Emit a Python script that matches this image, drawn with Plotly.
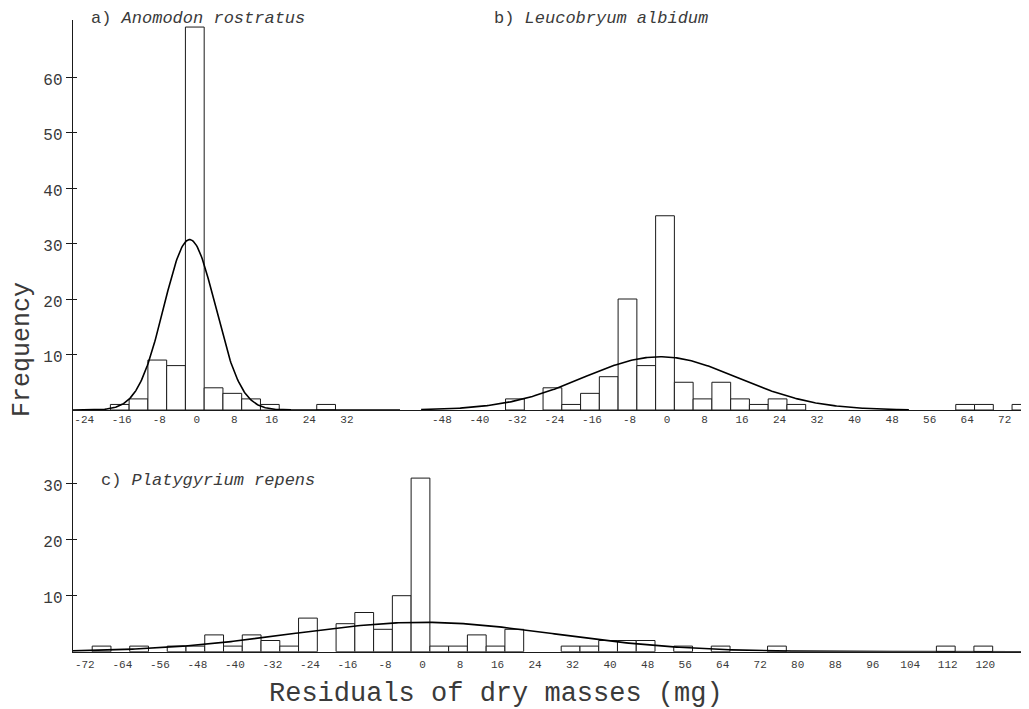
import numpy as np
import plotly.graph_objects as go

# ---------------- data ----------------
# a) Anomodon rostratus : histogram of residuals (bin centres, width 4 mg)
a_bins = [-16, -12, -8, -4, 0, 4, 8, 12, 16, 28]
a_counts = [1, 2, 9, 8, 69, 4, 3, 2, 1, 1]
a_fit = dict(peak=30.7, mean=-1.1, sd=5.5)

# b) Leucobryum albidum
b_bins = [-32, -24, -20, -16, -12, -8, -4, 0, 4, 8, 12, 16, 20, 24, 28, 64, 68, 76]
b_counts = [2, 4, 1, 3, 6, 20, 8, 35, 5, 2, 5, 2, 1, 2, 1, 1, 1, 1]
b_fit = dict(peak=9.6, mean=-1.0, sd=16.5)

# c) Platygyrium repens
c_bins = [-68, -60, -52, -48, -44, -40, -36, -32, -28, -24, -16, -12, -8, -4, 0,
          4, 8, 12, 16, 20, 32, 36, 40, 44, 48, 56, 64, 76, 112, 120]
c_counts = [1, 1, 1, 1, 3, 1, 3, 2, 1, 6, 5, 7, 4, 10, 31,
            1, 1, 3, 1, 4, 1, 1, 2, 2, 2, 1, 1, 1, 1, 1]
c_fit = dict(peak=5.25, mean=0.5, sd=28.0)

bin_width = 4

a_xticks = [-24, -16, -8, 0, 8, 16, 24, 32]
b_xticks = [-48, -40, -32, -24, -16, -8, 0, 8, 16, 24, 32, 40, 48, 56, 64, 72]
c_xticks = [-72, -64, -56, -48, -40, -32, -24, -16, -8, 0, 8, 16, 24, 32, 40,
            48, 56, 64, 72, 80, 88, 96, 104, 112, 120]
top_yticks = [10, 20, 30, 40, 50, 60]
bot_yticks = [10, 20, 30]

titles = ["a) <i>Anomodon rostratus</i>",
          "b) <i>Leucobryum albidum</i>",
          "c) <i>Platygyrium repens</i>"]
y_title = "Frequency"
x_title = "Residuals of dry masses (mg)"

# ---------------- layout geometry (reference pixels) ----------------
WIN_W, WIN_H = 1029, 709
OFF = 8                      # page body margin of the browser
W, H = WIN_W - OFF, WIN_H - OFF
FONT = "Liberation Mono"
INK = "#1a1a1a"
TXT = "#3a3a3a"

def fx(p):
    return (p - OFF) / W

def fy(p):
    return 1 - (p - OFF) / H

AX_X = 72.7          # shared vertical axis
TOP_BASE, TOP_TOP = 410.0, 20.0
BOT_BASE, BOT_TOP = 651.7, 410.0
PX_PER_UNIT_X = 4.69
PX_PER_UNIT_Y_TOP = 5.55
PX_PER_UNIT_Y_BOT = 5.6
SPLIT = 400.0        # where panel a hands over to panel b
A_ZERO, B_ZERO, C_ZERO = 194.8, 665.0, 420.5

a_range = [(AX_X - A_ZERO) / PX_PER_UNIT_X, (SPLIT - A_ZERO) / PX_PER_UNIT_X]
b_range = [(SPLIT - B_ZERO) / PX_PER_UNIT_X, (WIN_W - B_ZERO) / PX_PER_UNIT_X]
c_range = [(AX_X - C_ZERO) / PX_PER_UNIT_X, (WIN_W - C_ZERO) / PX_PER_UNIT_X]
top_yrange = [0, (TOP_BASE - TOP_TOP) / PX_PER_UNIT_Y_TOP]
bot_yrange = [0, (BOT_BASE - BOT_TOP) / PX_PER_UNIT_Y_BOT]


def normal_curve(fit, lo, hi):
    xs = np.linspace(lo, hi, 400)
    ys = fit["peak"] * np.exp(-0.5 * ((xs - fit["mean"]) / fit["sd"]) ** 2)
    return xs, ys


bar_style = dict(color="white", line=dict(color=INK, width=1))
curve_style = dict(color="black", width=1.6)

fig = go.Figure()
for bins, counts, fit, xa, ya, rng in [
    (a_bins, a_counts, a_fit, "x", "y", a_range),
    (b_bins, b_counts, b_fit, "x2", "y2", [-52, 52]),
    (c_bins, c_counts, c_fit, "x3", "y3", c_range),
]:
    fig.add_trace(go.Bar(x=bins, y=counts, width=bin_width, marker=bar_style,
                         xaxis=xa, yaxis=ya, showlegend=False, hoverinfo="skip"))
    cx, cy = normal_curve(fit, rng[0], rng[1])
    fig.add_trace(go.Scatter(x=cx, y=cy, mode="lines", line=curve_style,
                             xaxis=xa, yaxis=ya, showlegend=False, hoverinfo="skip"))

# helper traces for the inner half of the crossing tick marks
fig.add_trace(go.Scatter(x=[None], y=[None], xaxis="x", yaxis="y4",
                         showlegend=False, hoverinfo="skip"))
fig.add_trace(go.Scatter(x=[None], y=[None], xaxis="x3", yaxis="y5",
                         showlegend=False, hoverinfo="skip"))

xfont = dict(family=FONT, size=11, color=TXT)
yfont = dict(family=FONT, size=16, color=TXT)

def xaxis_cfg(dom, rng, ticks, anchor, standoff):
    return dict(domain=dom, range=rng, anchor=anchor, showline=True,
                linecolor=INK, linewidth=1, ticks="", showgrid=False,
                zeroline=False, tickmode="array", tickvals=ticks,
                ticktext=[str(t) for t in ticks], tickfont=xfont,
                ticklabelstandoff=standoff, ticklabelshift=2)

def yaxis_cfg(dom, rng, ticks, anchor):
    return dict(domain=dom, range=rng, anchor=anchor, showline=True,
                linecolor=INK, linewidth=1, ticks="outside", ticklen=6,
                tickcolor=INK, showgrid=False, zeroline=False,
                tickmode="array", tickvals=ticks,
                ticktext=[str(t) for t in ticks], tickfont=yfont,
                ticklabelshift=2)

top_dom = [fy(TOP_BASE), fy(TOP_TOP)]
bot_dom = [fy(BOT_BASE), fy(BOT_TOP)]

fig.update_layout(
    width=W, height=H,
    margin=dict(l=0, r=0, t=0, b=0),
    paper_bgcolor="white", plot_bgcolor="rgba(0,0,0,0)",
    barmode="overlay",
    xaxis=xaxis_cfg([fx(AX_X), fx(SPLIT)], a_range, a_xticks, "y", -1),
    xaxis2=xaxis_cfg([fx(SPLIT), 1.0], b_range, b_xticks, "y2", -1),
    xaxis3=xaxis_cfg([fx(AX_X), 1.0], c_range, c_xticks, "y3", 2),
    yaxis=yaxis_cfg(top_dom, top_yrange, top_yticks, "x"),
    yaxis2=dict(domain=top_dom, range=top_yrange, anchor="x2", visible=False),
    yaxis3=yaxis_cfg(bot_dom, bot_yrange, bot_yticks, "x3"),
    yaxis4=dict(overlaying="y", anchor="x", range=top_yrange, showline=False,
                ticks="inside", ticklen=4, tickcolor=INK, tickmode="array",
                tickvals=top_yticks, showticklabels=False, showgrid=False,
                zeroline=False),
    yaxis5=dict(overlaying="y3", anchor="x3", range=bot_yrange, showline=False,
                ticks="inside", ticklen=4, tickcolor=INK, tickmode="array",
                tickvals=bot_yticks, showticklabels=False, showgrid=False,
                zeroline=False),
)

title_font = dict(family=FONT, size=17, color=TXT)
annos = [
    dict(text=titles[0], x=fx(90), y=fy(19)),
    dict(text=titles[1], x=fx(493), y=fy(19)),
    dict(text=titles[2], x=fx(100), y=fy(480)),
]
for a in annos:
    fig.add_annotation(xref="paper", yref="paper", xanchor="left",
                       yanchor="middle", showarrow=False, font=title_font,
                       borderpad=0, **a)

fig.add_annotation(text=y_title, xref="paper", yref="paper", x=fx(22), y=fy(350),
                   textangle=-90, showarrow=False, xanchor="center",
                   yanchor="middle", borderpad=0,
                   font=dict(family=FONT, size=25, color=TXT))
fig.add_annotation(text=x_title, xref="paper", yref="paper", x=fx(496), y=fy(694),
                   showarrow=False, xanchor="center", yanchor="middle",
                   font=dict(family=FONT, size=27, color=TXT))

fig.write_html("out.html")
